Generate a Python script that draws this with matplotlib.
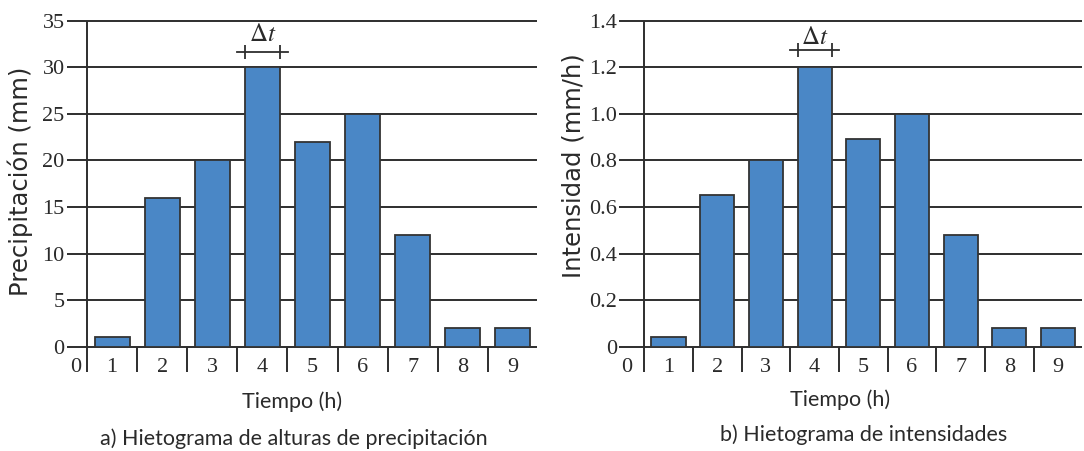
import numpy as np
import matplotlib
matplotlib.use('Agg')
import matplotlib.pyplot as plt

plt.rcParams['mathtext.fontset'] = 'stix'

# datos de los hietogramas
horas = [1, 2, 3, 4, 5, 6, 7, 8, 9]
precipitacion = [1, 16, 20, 30, 22, 25, 12, 2, 2]          # mm
intensidad = [0.04, 0.65, 0.80, 1.20, 0.89, 1.00, 0.48, 0.08, 0.08]  # mm/h
yticks_a = [0, 5, 10, 15, 20, 25, 30, 35]
ylabels_a = ['0', '5', '10', '15', '20', '25', '30', '35']
yticks_b = [0, 0.2, 0.4, 0.6, 0.8, 1.0, 1.2, 1.4]
ylabels_b = ['0', '0.2', '0.4', '0.6', '0.8', '1.0', '1.2', '1.4']

W, H = 1084, 451
AZUL = '#4a87c6'
BORDE = '#333333'
LINEA = '#2e2e2e'
TEXTO = '#2a2a2a'
SERIF = 'Liberation Serif'
SANS = ['Lato', 'DejaVu Sans']

fig = plt.figure(figsize=(W / 100, H / 100), dpi=100)


def ejes(x0, x1, y0=20.7, y1=346.7):
    return fig.add_axes([x0 / W, 1 - y1 / H, (x1 - x0) / W, (y1 - y0) / H])


def hietograma(ax, valores, yticks, ylabels, xlim, dt_y, dt_txt_y, cero_x):
    ymax = yticks[-1]
    ax.set_xlim(xlim)
    ax.set_ylim(0, ymax)
    for s in ax.spines.values():
        s.set_visible(False)
    ax.hlines(yticks, xlim[0], xlim[1], color=LINEA, lw=1.4, clip_on=False, zorder=1)
    ax.vlines(0, 0, ymax, color=LINEA, lw=1.4, clip_on=False, zorder=1)

    centros = np.array(horas) - 0.5
    ax.bar(centros, valores, width=0.7, color=AZUL, edgecolor=BORDE,
           linewidth=1.3, zorder=2)

    ax.set_yticks(yticks, ylabels)
    ax.set_xticks(list(centros) + [cero_x], [str(h) for h in horas] + ['0'])
    ax.set_xticks(range(9), minor=True)
    ax.tick_params(axis='y', length=0, pad=1.5, labelsize=16, labelcolor=TEXTO)
    ax.tick_params(axis='x', which='major', length=0, pad=8, labelsize=16,
                   labelcolor=TEXTO)
    ax.tick_params(axis='x', which='minor', length=18, width=1.4, color=LINEA)
    for lbl in ax.get_xticklabels() + ax.get_yticklabels():
        lbl.set_fontfamily(SERIF)

    # marca del intervalo de tiempo sobre la barra 4
    a, b = 3.5 - 0.35, 3.5 + 0.35
    ax.plot([a - 0.16, b + 0.16], [dt_y, dt_y], color=LINEA, lw=1.3, clip_on=False)
    ax.plot([a, b], [dt_y, dt_y], ls='none', marker='|', ms=10, mew=1.3,
            color=LINEA, clip_on=False)
    ax.text(3.5, dt_txt_y, r'$\Delta t$', ha='center', va='center',
            fontsize=18, color=TEXTO)


ax_a = ejes(66.7, 537)
hietograma(ax_a, precipitacion, yticks_a, ylabels_a, (-0.405, 8.98), 31.67, 33.6, -0.22)

ax_b = ejes(619.3, 1082)
hietograma(ax_b, intensidad, yticks_b, ylabels_b, (-0.51, 8.99), 1.274, 1.331, -0.36)


def texto(x, y, s, **kw):
    fig.text(x / W, 1 - y / H, s, color=TEXTO, **kw)


texto(20, 181, 'Precipitación (mm)', rotation=90, ha='center', va='center',
      fontsize=17.5, family='DejaVu Sans')
texto(574, 166, 'Intensidad (mm/h)', rotation=90, ha='center', va='center',
      fontsize=17.5, family='DejaVu Sans')

texto(292, 408, 'Tiempo (h)', ha='center', va='baseline', fontsize=15.5, family=SANS)
texto(294, 445, 'a) Hietograma de alturas de precipitación', ha='center',
      va='baseline', fontsize=15.5, family=SANS)
texto(840, 406, 'Tiempo (h)', ha='center', va='baseline', fontsize=15.5, family=SANS)
texto(864, 441, 'b) Hietograma de intensidades', ha='center', va='baseline',
      fontsize=15.5, family=SANS)

fig.savefig('out.png', dpi=100, facecolor='white')
